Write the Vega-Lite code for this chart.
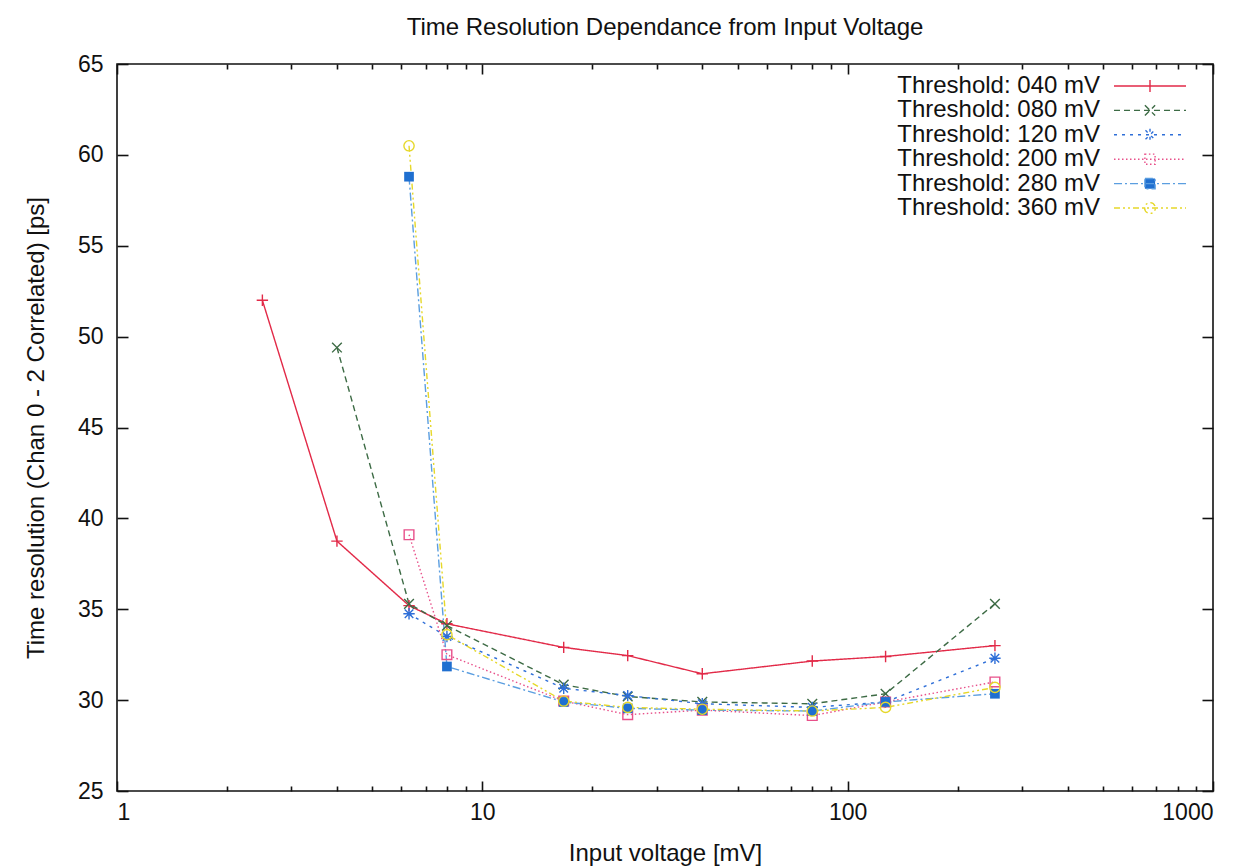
{
  "$schema": "https://vega.github.io/schema/vega-lite/v6.json",
  "width": 1096,
  "height": 727,
  "autosize": {"type": "none"},
  "padding": {"left": 117, "top": 64, "right": 34, "bottom": 76},
  "background": "white",
  "title": {"text": "Time Resolution Dependance from Input Voltage", "font": "Liberation Sans", "fontSize": 24, "fontWeight": "normal", "color": "#111", "offset": 13, "anchor": "middle"},
  "data": {"values": [
    {"series": "Threshold: 040 mV", "v": 2.5, "t": 52.0},
    {"series": "Threshold: 040 mV", "v": 4.0, "t": 38.75},
    {"series": "Threshold: 040 mV", "v": 6.3, "t": 35.2},
    {"series": "Threshold: 040 mV", "v": 8.0, "t": 34.2},
    {"series": "Threshold: 040 mV", "v": 16.7, "t": 32.9},
    {"series": "Threshold: 040 mV", "v": 25, "t": 32.45},
    {"series": "Threshold: 040 mV", "v": 40, "t": 31.45},
    {"series": "Threshold: 040 mV", "v": 80, "t": 32.15},
    {"series": "Threshold: 040 mV", "v": 127, "t": 32.4},
    {"series": "Threshold: 040 mV", "v": 253, "t": 33.0},
    {"series": "Threshold: 080 mV", "v": 4.0, "t": 49.4},
    {"series": "Threshold: 080 mV", "v": 6.3, "t": 35.3},
    {"series": "Threshold: 080 mV", "v": 8.0, "t": 34.1},
    {"series": "Threshold: 080 mV", "v": 16.7, "t": 30.85},
    {"series": "Threshold: 080 mV", "v": 25, "t": 30.2},
    {"series": "Threshold: 080 mV", "v": 40, "t": 29.9},
    {"series": "Threshold: 080 mV", "v": 80, "t": 29.8},
    {"series": "Threshold: 080 mV", "v": 127, "t": 30.35},
    {"series": "Threshold: 080 mV", "v": 253, "t": 35.3},
    {"series": "Threshold: 120 mV", "v": 6.3, "t": 34.75},
    {"series": "Threshold: 120 mV", "v": 8.0, "t": 33.5},
    {"series": "Threshold: 120 mV", "v": 16.7, "t": 30.65},
    {"series": "Threshold: 120 mV", "v": 25, "t": 30.25},
    {"series": "Threshold: 120 mV", "v": 40, "t": 29.8},
    {"series": "Threshold: 120 mV", "v": 80, "t": 29.6},
    {"series": "Threshold: 120 mV", "v": 127, "t": 29.9},
    {"series": "Threshold: 120 mV", "v": 253, "t": 32.3},
    {"series": "Threshold: 200 mV", "v": 6.3, "t": 39.1},
    {"series": "Threshold: 200 mV", "v": 8.0, "t": 32.5},
    {"series": "Threshold: 200 mV", "v": 16.7, "t": 29.95},
    {"series": "Threshold: 200 mV", "v": 25, "t": 29.2},
    {"series": "Threshold: 200 mV", "v": 40, "t": 29.45},
    {"series": "Threshold: 200 mV", "v": 80, "t": 29.15},
    {"series": "Threshold: 200 mV", "v": 127, "t": 29.9},
    {"series": "Threshold: 200 mV", "v": 253, "t": 31.0},
    {"series": "Threshold: 280 mV", "v": 6.3, "t": 58.8},
    {"series": "Threshold: 280 mV", "v": 8.0, "t": 31.85},
    {"series": "Threshold: 280 mV", "v": 16.7, "t": 29.9},
    {"series": "Threshold: 280 mV", "v": 25, "t": 29.55},
    {"series": "Threshold: 280 mV", "v": 40, "t": 29.45},
    {"series": "Threshold: 280 mV", "v": 80, "t": 29.4},
    {"series": "Threshold: 280 mV", "v": 127, "t": 29.9},
    {"series": "Threshold: 280 mV", "v": 253, "t": 30.35},
    {"series": "Threshold: 360 mV", "v": 6.3, "t": 60.5},
    {"series": "Threshold: 360 mV", "v": 8.0, "t": 33.6},
    {"series": "Threshold: 360 mV", "v": 16.7, "t": 29.95},
    {"series": "Threshold: 360 mV", "v": 25, "t": 29.6},
    {"series": "Threshold: 360 mV", "v": 40, "t": 29.5},
    {"series": "Threshold: 360 mV", "v": 80, "t": 29.4},
    {"series": "Threshold: 360 mV", "v": 127, "t": 29.6},
    {"series": "Threshold: 360 mV", "v": 253, "t": 30.7}
  ]},
  "layer": [
    {
      "mark": {"type": "line", "strokeWidth": 1.4, "clip": true},
      "encoding": {
        "x": {"field": "v", "type": "quantitative",
          "scale": {"type": "log", "domain": [1, 1000], "nice": false},
          "axis": {"orient": "bottom", "title": "Input voltage [mV]", "format": "d",
            "values": [1,2,3,4,5,6,7,8,9,10,20,30,40,50,60,70,80,90,100,200,300,400,500,600,700,800,900,1000],
            "labelExpr": "indexof([1,10,100,1000], datum.value) >= 0 ? datum.label : ''",
            "tickSize": {"condition": {"test": "indexof([1,10,100,1000], datum.value) >= 0", "value": -10}, "value": -5},
            "labelPadding": 20, "titlePadding": 17}},
        "y": {"field": "t", "type": "quantitative",
          "scale": {"domain": [25, 65], "nice": false, "zero": false},
          "axis": {"orient": "left", "title": "Time resolution (Chan 0 - 2 Correlated) [ps]",
            "values": [25,30,35,40,45,50,55,60,65], "tickSize": -11, "labelPadding": 25, "titlePadding": 29}},
        "order": {"field": "v", "type": "quantitative"},
        "color": {"field": "series", "type": "nominal",
          "scale": {"domain": ["Threshold: 040 mV","Threshold: 080 mV","Threshold: 120 mV","Threshold: 200 mV","Threshold: 280 mV","Threshold: 360 mV"],
            "range": ["#e22a48","#3d6b45","#2f6fd8","#e8508a","#5b9ee0","#e6d82a"]},
          "legend": {"orient": "none", "legendX": 1021, "legendY": 10, "title": null,
            "labelFont": "Liberation Sans", "labelFontSize": 24, "labelColor": "#111", "labelLimit": 500,
            "labelAlign": "right", "labelOffset": -62, "rowPadding": 0.4,
            "symbolSize": 144, "symbolStrokeWidth": 1.4,
            "encode": {"symbols": {
              "update": {
                "shape": {"signal": "['M-6,0H6M0,-1V1','M-6,0H6M-0.85,-0.85L0.85,0.85M-0.85,0.85L0.85,-0.85','M-6,0H6M0,-1V1M-0.75,-0.75L0.75,0.75M-0.75,0.75L0.75,-0.75','M-6,0H6M-0.85,-0.85H0.85V0.85H-0.85Z','M-6,0H6M-0.85,-0.85H0.85V0.85H-0.85Z','M-6,0H6M-0.9,0A0.9,0.9,0,1,0,0.9,0A0.9,0.9,0,1,0,-0.9,0Z'][indexof(['Threshold: 040 mV','Threshold: 080 mV','Threshold: 120 mV','Threshold: 200 mV','Threshold: 280 mV','Threshold: 360 mV'], datum.value)]"},
                "strokeDash": {"signal": "[[1,0],[6,4],[3,5],[1.5,2.5],[8,3,2,3],[6,3,2,3,2,3]][indexof(['Threshold: 040 mV','Threshold: 080 mV','Threshold: 120 mV','Threshold: 200 mV','Threshold: 280 mV','Threshold: 360 mV'], datum.value)]"},
                "fill": {"signal": "datum.value === 'Threshold: 280 mV' ? '#1f6fd0' : 'transparent'"},
                "size": {"value": 144},
                "opacity": {"value": 1}
              }
            }}}},
        "strokeDash": {"field": "series", "type": "nominal", "legend": null,
          "scale": {"domain": ["Threshold: 040 mV","Threshold: 080 mV","Threshold: 120 mV","Threshold: 200 mV","Threshold: 280 mV","Threshold: 360 mV"],
            "range": [[1,0],[6,4],[3,5],[1.5,2.5],[8,3,2,3],[6,3,2,3,2,3]]}}
      }
    },
    {
      "transform": [{"filter": "datum.series === 'Threshold: 040 mV'"}],
      "mark": {"type": "point", "size": 130, "strokeWidth": 1.4, "opacity": 1, "filled": false, "color": "#e22a48", "shape": "M-1,0H1M0,-1V1"},
      "encoding": {
        "x": {"field": "v", "type": "quantitative",
          "scale": {"type": "log", "domain": [1, 1000], "nice": false},
          "axis": {"orient": "top", "title": null, "labels": false,
            "values": [1,2,3,4,5,6,7,8,9,10,20,30,40,50,60,70,80,90,100,200,300,400,500,600,700,800,900,1000],
            "tickSize": {"condition": {"test": "indexof([1,10,100,1000], datum.value) >= 0", "value": -10}, "value": -5}}},
        "y": {"field": "t", "type": "quantitative",
          "scale": {"domain": [25, 65], "nice": false, "zero": false},
          "axis": {"orient": "right", "title": null, "labels": false,
            "values": [25,30,35,40,45,50,55,60,65], "tickSize": -11}}
      }
    },
    {
      "transform": [{"filter": "datum.series === 'Threshold: 080 mV'"}],
      "mark": {"type": "point", "size": 130, "strokeWidth": 1.4, "opacity": 1, "filled": false, "color": "#3d6b45", "shape": "M-0.85,-0.85L0.85,0.85M-0.85,0.85L0.85,-0.85"},
      "encoding": {
        "x": {"field": "v", "type": "quantitative", "axis": null},
        "y": {"field": "t", "type": "quantitative", "axis": null}
      }
    },
    {
      "transform": [{"filter": "datum.series === 'Threshold: 120 mV'"}],
      "mark": {"type": "point", "size": 130, "strokeWidth": 1.4, "opacity": 1, "filled": false, "color": "#2f6fd8", "shape": "M-1,0H1M0,-1V1M-0.75,-0.75L0.75,0.75M-0.75,0.75L0.75,-0.75"},
      "encoding": {
        "x": {"field": "v", "type": "quantitative", "axis": null},
        "y": {"field": "t", "type": "quantitative", "axis": null}
      }
    },
    {
      "transform": [{"filter": "datum.series === 'Threshold: 200 mV'"}],
      "mark": {"type": "point", "size": 130, "strokeWidth": 1.4, "opacity": 1, "filled": false, "color": "#e8508a", "shape": "M-0.85,-0.85H0.85V0.85H-0.85Z"},
      "encoding": {
        "x": {"field": "v", "type": "quantitative", "axis": null},
        "y": {"field": "t", "type": "quantitative", "axis": null}
      }
    },
    {
      "transform": [{"filter": "datum.series === 'Threshold: 280 mV'"}],
      "mark": {"type": "point", "size": 130, "strokeWidth": 1.4, "opacity": 1, "filled": true, "color": "#1f6fd0", "shape": "M-0.85,-0.85H0.85V0.85H-0.85Z"},
      "encoding": {
        "x": {"field": "v", "type": "quantitative", "axis": null},
        "y": {"field": "t", "type": "quantitative", "axis": null}
      }
    },
    {
      "transform": [{"filter": "datum.series === 'Threshold: 360 mV'"}],
      "mark": {"type": "point", "size": 130, "strokeWidth": 1.4, "opacity": 1, "filled": false, "color": "#e6d82a", "shape": "M-0.9,0A0.9,0.9,0,1,0,0.9,0A0.9,0.9,0,1,0,-0.9,0Z"},
      "encoding": {
        "x": {"field": "v", "type": "quantitative", "axis": null},
        "y": {"field": "t", "type": "quantitative", "axis": null}
      }
    }
  ],
  "resolve": {"axis": {"x": "independent", "y": "independent"}},
  "config": {
    "view": {"stroke": "#111", "strokeWidth": 1.6},
    "font": "Liberation Sans",
    "axis": {"domain": false, "grid": false, "tickColor": "#111", "tickWidth": 1.6,
      "labelFont": "Liberation Sans", "labelFontSize": 23, "labelColor": "#111",
      "titleFont": "Liberation Sans", "titleFontSize": 24, "titleFontWeight": "normal", "titleColor": "#111"}
  }
}
